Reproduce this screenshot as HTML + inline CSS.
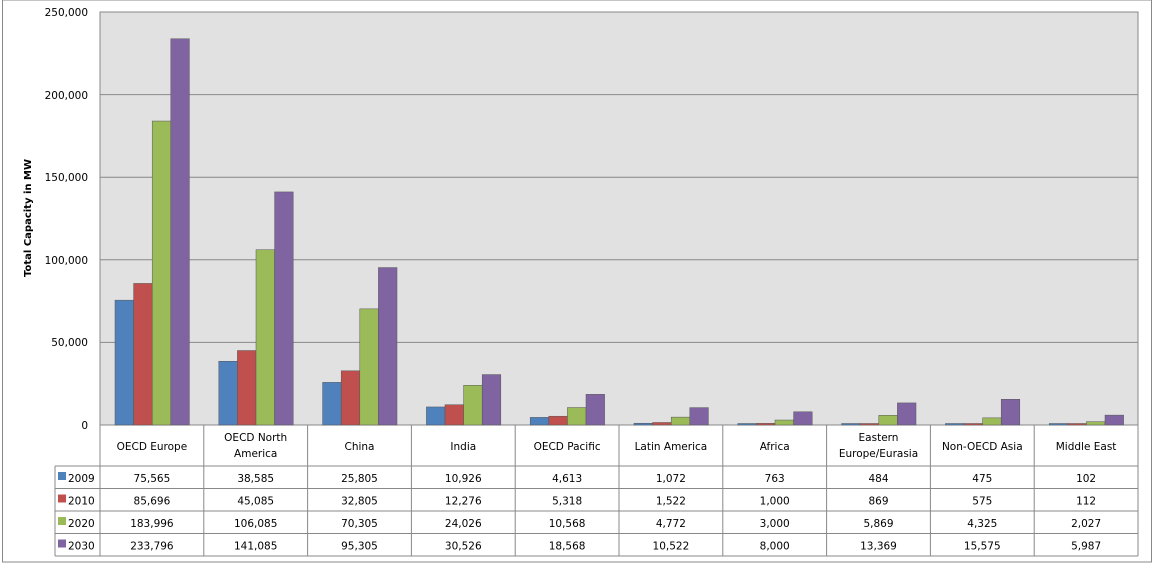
<!DOCTYPE html><html><head><meta charset="utf-8"><style>body{margin:0;background:#fff}svg{display:block}text{font-family:"DejaVu Sans","Liberation Sans",sans-serif;font-size:10.5px;fill:#000}</style></head><body>
<svg width="1152" height="564" xmlns="http://www.w3.org/2000/svg">
<rect x="2.5" y="0" width="1149" height="562" fill="#fff" stroke="#888"/>
<rect x="100" y="12" width="1038" height="413" fill="#e1e1e1" stroke="#888"/>
<g stroke="#888"><line x1="100" x2="1138" y1="94.6" y2="94.6"/><line x1="100" x2="1138" y1="177.2" y2="177.2"/><line x1="100" x2="1138" y1="259.8" y2="259.8"/><line x1="100" x2="1138" y1="342.4" y2="342.4"/></g>
<g text-anchor="end"><text x="88" y="16">250,000</text><text x="88" y="99">200,000</text><text x="88" y="181">150,000</text><text x="88" y="264">100,000</text><text x="88" y="346">50,000</text><text x="88" y="429">0</text></g>
<text transform="translate(31,218) rotate(-90)" text-anchor="middle" font-weight="bold" style="font-size:10px">Total Capacity in MW</text>
<g id="bars" stroke="#555" stroke-width="0.5"></g>
<g id="tbl"></g>
<script>
var d=[[75565,85696,183996,233796],[38585,45085,106085,141085],[25805,32805,70305,95305],[10926,12276,24026,30526],[4613,5318,10568,18568],[1072,1522,4772,10522],[763,1000,3000,8000],[484,869,5869,13369],[475,575,4325,15575],[102,112,2027,5987]];
var names=[["OECD Europe"],["OECD North","America"],["China"],["India"],["OECD Pacific"],["Latin America"],["Africa"],["Eastern","Europe/Eurasia"],["Non-OECD Asia"],["Middle East"]];
var col=["#4f81bd","#c0504d","#9bbb59","#8064a2"],yrs=["2009","2010","2020","2030"];
var ns="http://www.w3.org/2000/svg",B=document.getElementById("bars"),T=document.getElementById("tbl");
function el(p,t,a,tx){var e=document.createElementNS(ns,t);for(var k in a)e.setAttribute(k,a[k]);if(tx)e.textContent=tx;p.appendChild(e);return e;}
var cw=103.8;
for(var i=0;i<10;i++){var x0=100+i*cw;
for(var j=0;j<4;j++){var h=Math.max(1.5,d[i][j]/250000*413);el(B,"rect",{x:x0+15+j*18.6,y:425-h,width:18.6,height:h,fill:col[j]});}
var nm=names[i];var cx=x0+cw/2;
if(nm.length==1)el(T,"text",{x:cx,y:450,"text-anchor":"middle"},nm[0]);else{el(T,"text",{x:cx,y:441,"text-anchor":"middle"},nm[0]);el(T,"text",{x:cx,y:457,"text-anchor":"middle"},nm[1]);}
for(var j=0;j<4;j++)el(T,"text",{x:cx,y:482+j*22.5,"text-anchor":"middle"},d[i][j].toLocaleString("en-US"));}
for(var j=0;j<4;j++){var y=466+j*22.5;el(T,"rect",{x:58,y:y+6,width:8,height:8,fill:col[j]});el(T,"text",{x:68,y:y+16},yrs[j]);}
var g=el(T,"g",{stroke:"#888",fill:"none"});
for(var i=0;i<=10;i++){var x=100+i*cw;el(g,"line",{x1:x,x2:x,y1:425,y2:556});}
el(g,"line",{x1:55,x2:55,y1:466,y2:556});
for(var j=0;j<=4;j++){var y=466+j*22.5;el(g,"line",{x1:55,x2:1138,y1:y,y2:y});}
</script>
</svg></body></html>
